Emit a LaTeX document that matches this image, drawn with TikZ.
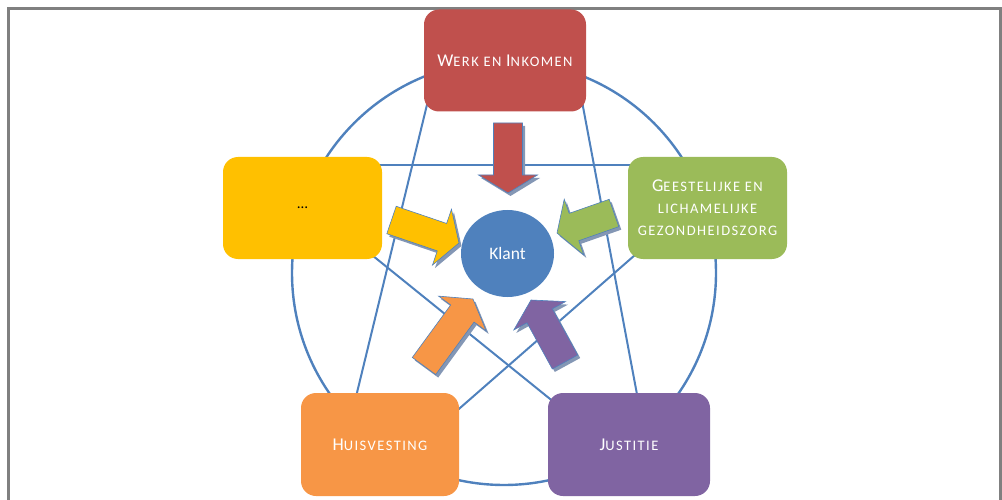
\documentclass[tikz,border=0pt]{standalone}
\usepackage{fontspec}
\setmainfont{Carlito}
\newfontfamily\boxfont[LetterSpace=10]{Carlito}
\usetikzlibrary{shapes.geometric,calc}
\definecolor{cred}{HTML}{C0504D}
\definecolor{cgreen}{HTML}{9BBB59}
\definecolor{cyellow}{HTML}{FFC000}
\definecolor{corange}{HTML}{F79646}
\definecolor{cpurple}{HTML}{8064A2}
\definecolor{cblue}{HTML}{4F81BD}
\definecolor{cframe}{HTML}{808080}
\definecolor{cshadow}{HTML}{8497B5}
\newcommand\scw[2]{{\fontsize{18}{22}\selectfont #1}{\fontsize{14.5}{22}\selectfont #2}}
% tail x, tail y, tip x, tip y, colour
\newcommand\blockarrow[5]{%
  \pgfmathsetmacro\bdx{#3-#1}%
  \pgfmathsetmacro\bdy{#4-#2}%
  \pgfmathsetmacro\bang{atan2(-\bdy,\bdx)}%
  \pgfmathsetmacro\blen{veclen(\bdx,\bdy)}%
  \pgfmathsetmacro\bbase{\blen-18}%
  \begin{scope}[shift={(#1+2.5,#2+3)}, rotate=\bang]
    \fill[cshadow] (0,-14.5) -- (\bbase,-14.5) -- (\bbase,-29.5) -- (\blen,0) -- (\bbase,29.5) -- (\bbase,14.5) -- (0,14.5) -- cycle;
  \end{scope}
  \begin{scope}[shift={(#1,#2)}, rotate=\bang]
    \filldraw[fill=#5, draw=cblue, line width=0.6pt] (0,-14.5) -- (\bbase,-14.5) -- (\bbase,-29.5) -- (\blen,0) -- (\bbase,29.5) -- (\bbase,14.5) -- (0,14.5) -- cycle;
  \end{scope}%
}
\begin{document}
\begin{tikzpicture}[x=1pt,y=-1pt,
  box/.style={rounded corners=15pt, minimum width=160pt, minimum height=102pt, inner sep=0pt,
    text=white, align=center, font=\boxfont\fontsize{14.5}{22}\selectfont},
  link/.style={draw=cblue, line width=2pt},
  ring/.style={draw=cblue, line width=2.4pt}]
\useasboundingbox (0,0) rectangle (1002,500);
\clip (0,0) rectangle (1002,500);
\draw[cframe, line width=3pt] (8.5,520) -- (8.5,8.5) -- (1000,8.5) -- (1000,520);
% big circle
\draw[ring] (504,273) circle[radius=212];
% pentagram lines
\coordinate (a1) at (433,80);  \coordinate (a2) at (354,405);
\coordinate (b1) at (578,80);  \coordinate (b2) at (639,405);
\coordinate (c1) at (375,165); \coordinate (c2) at (635,165);
\coordinate (d1) at (362,247); \coordinate (d2) at (560,407);
\coordinate (e1) at (643,248); \coordinate (e2) at (452,415);
\draw[link] (a1) -- (a2);
\draw[link] (b1) -- (b2);
\draw[link] (c1) -- (c2);
\draw[link] (d1) -- (d2);
\draw[link] (e1) -- (e2);
% boxes
\node[box, fill=cred, minimum width=162pt] (werk) at (505,60.5) {\scw{W}{ERK EN }\scw{I}{NKOMEN}};
\node[box, fill=cgreen, minimum width=159pt] (geest) at (707.5,208) {\scw{G}{EESTELIJKE EN}\\LICHAMELIJKE\\GEZONDHEIDSZORG};
\node[box, fill=cyellow, minimum width=159pt, text=black, font=\fontsize{15}{18}\selectfont] (dots) at (302.5,208) {\dots};
\node[box, fill=corange, minimum width=158pt, minimum height=103pt] (huis) at (380,444.5) {\scw{H}{UISVESTING}};
\node[box, fill=cpurple, minimum width=162pt, minimum height=103pt] (just) at (629,444.5) {\scw{J}{USTITIE}};
% block arrows
\blockarrow{508}{123}{508}{193}{cred}
\blockarrow{391.5}{220}{459}{243}{cyellow}
\blockarrow{614}{213}{557}{233}{cgreen}
\blockarrow{424}{366}{473}{299}{corange}
\blockarrow{565}{362}{531}{300}{cpurple}
% client
\node[ellipse, fill=cblue, minimum width=93pt, minimum height=87pt, text=white, font=\fontsize{17.5}{20}\selectfont] (klant) at (507.5,253.5) {Klant};
\end{tikzpicture}
\end{document}
